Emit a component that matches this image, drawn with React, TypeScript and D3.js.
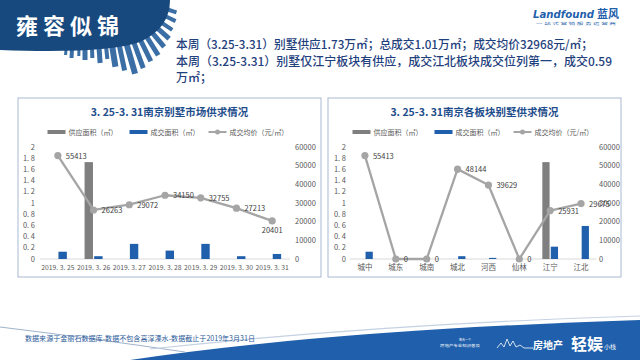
import * as d3 from "d3";

const FONT = '"Noto Sans CJK SC", "Noto Sans", sans-serif';

// left chart: by date
const dateLabels = ["2019. 3. 25", "2019. 3. 26", "2019. 3. 27", "2019. 3. 28", "2019. 3. 29", "2019. 3. 30", "2019. 3. 31"];
const dateSupply = [0, 1.73, 0, 0, 0, 0, 0];
const dateDeal = [0.13, 0.05, 0.27, 0.15, 0.27, 0.05, 0.09];
const datePrice = [55413, 26263, 29072, 34150, 32755, 27213, 20401];
const dateLabelPos = ["right", "right", "right", "right", "right", "right", "below"];

// right chart: by area
const areaLabels = ["城中", "城东", "城南", "城北", "河西", "仙林", "江宁", "江北"];
const areaSupply = [0, 0, 0, 0, 0, 0, 1.73, 0];
const areaDeal = [0.13, 0, 0, 0.05, 0.02, 0, 0.22, 0.59];
const areaPrice = [55413, 0, 0, 48144, 39629, 0, 25931, 29675];
const areaLabelPos = ["right", "right", "right", "right", "right", "right", "right", "right"];

const areaTicks = [0, 0.2, 0.4, 0.6, 0.8, 1, 1.2, 1.4, 1.6, 1.8, 2];
const priceTicks = [0, 10000, 20000, 30000, 40000, 50000, 60000];
const legendNames = ["供应面积（㎡）", "成交面积（㎡）", "成交均价（元/㎡）"];

const GRAY = "#7f7f7f";
const BLUE = "#1f5fab";
const LINE = "#a5a5a5";
const TXT = "#595959";

const fmtArea = (d: number) => (d === 0 ? "0" : d3.format("~g")(d).replace(".", ". "));

type ChartProps = {
  px: number; pw: number; title: string;
  cats: string[]; supply: number[]; deal: number[]; price: number[]; labelPos: string[];
  x0: number; x1: number; leftX: number; rightX: number; catFont: number;
};

function Chart(p: ChartProps) {
  const top = 98, ph = 179;
  const cx = p.px + p.pw / 2;
  const x = d3.scaleBand<string>().domain(p.cats).range([p.x0, p.x1]).padding(0);
  const yL = d3.scaleLinear().domain([0, 2]).range([259, 147]);
  const yR = d3.scaleLinear().domain([0, 60000]).range([259, 147]);
  const bw = x.bandwidth() * 0.235;
  const c = (d: string) => (x(d) as number) + x.bandwidth() / 2;
  const line = d3.line<number>().x((_, i) => c(p.cats[i])).y((d) => yR(d));
  const ly = 132;
  const lx = [cx - 122, cx - 40, cx + 39];
  return (
    <g fontFamily={FONT}>
      <rect x={p.px} y={top} width={p.pw} height={ph} fill="#fff" stroke="#a7b9d0" strokeWidth={1} />
      <text x={cx} y={116} textAnchor="middle" fontSize={10.5} fontWeight="bold" fill="#1f4e8c">{p.title}</text>
      {/* legend */}
      <rect x={lx[0]} y={ly - 2} width={18} height={4} fill={GRAY} />
      <text x={lx[0] + 21} y={ly + 2.5} fontSize={7} fill={TXT}>{legendNames[0]}</text>
      <rect x={lx[1]} y={ly - 2} width={18} height={4} fill={BLUE} />
      <text x={lx[1] + 21} y={ly + 2.5} fontSize={7} fill={TXT}>{legendNames[1]}</text>
      <line x1={lx[2]} x2={lx[2] + 18} y1={ly} y2={ly} stroke={LINE} strokeWidth={2} />
      <circle cx={lx[2] + 9} cy={ly} r={2.5} fill={LINE} />
      <text x={lx[2] + 21} y={ly + 2.5} fontSize={7} fill={TXT}>{legendNames[2]}</text>
      {/* axes */}
      {areaTicks.map((t) => (
        <text key={"l" + t} x={p.leftX} y={yL(t) + 2.5} textAnchor="end" fontSize={7.5} fill={TXT}>{fmtArea(t)}</text>
      ))}
      {priceTicks.map((t) => (
        <text key={"r" + t} x={p.rightX} y={yR(t) + 2.5} fontSize={7.5} fill={TXT}>{t}</text>
      ))}
      <line x1={p.x0} x2={p.x1} y1={yL(0)} y2={yL(0)} stroke="#d9d9d9" strokeWidth={1} />
      {p.cats.map((d) => (
        <text key={"x" + d} x={c(d)} y={270} textAnchor="middle" fontSize={p.catFont} fill={TXT}>{d}</text>
      ))}
      {/* bars */}
      {p.cats.map((d, i) => (
        <g key={"b" + d}>
          {p.supply[i] > 0 && (
            <rect x={c(d) - bw - 0.6} y={yL(p.supply[i])} width={bw} height={yL(0) - yL(p.supply[i])} fill={GRAY} />
          )}
          {p.deal[i] > 0 && (
            <rect x={c(d) + 0.6} y={yL(p.deal[i])} width={bw} height={yL(0) - yL(p.deal[i])} fill={BLUE} />
          )}
        </g>
      ))}
      {/* price line */}
      <path d={line(p.price) as string} fill="none" stroke={LINE} strokeWidth={2.3} strokeLinejoin="round" />
      {p.price.map((v, i) => (
        <circle key={"p" + i} cx={c(p.cats[i])} cy={yR(v)} r={3.6} fill={LINE} />
      ))}
      {p.price.map((v, i) =>
        p.labelPos[i] === "below" ? (
          <text key={"t" + i} x={c(p.cats[i])} y={yR(v) + 12} textAnchor="middle" fontSize={7.5} fill="#404040">{v}</text>
        ) : (
          <text key={"t" + i} x={c(p.cats[i]) + 8} y={yR(v) + 3} fontSize={7.5} fill="#404040">{v}</text>
        )
      )}
    </g>
  );
}

// decorative building silhouette under the header blob: [baseX, baseY, angle, width, length]
const buildings: number[][] = [
  [66, 49, 4, 3, 6], [72, 49, 3, 4, 9], [79, 49, 2, 3, 7], [85, 48, 0, 5, 12], [92, 48, -2, 4, 10],
  [99, 47, -4, 5, 16], [106, 46, -6, 4, 13], [112, 45, -9, 6, 22], [119, 44, -12, 5, 27], [126, 42, -16, 6, 33],
  [133, 40, -20, 5, 30], [139, 37, -26, 5, 27], [145, 34, -32, 5, 25], [150, 30, -40, 5, 22], [155, 26, -48, 5, 19],
  [159, 21, -56, 4, 16], [163, 15, -64, 4, 14], [166, 9, -72, 4, 11],
];

export default function App() {
  return (
    <svg width={640} height={360} style={{ position: "absolute", left: 0, top: 0, background: "#fff" }} fontFamily={FONT}>
      <rect width={640} height={360} fill="#fff" />
      {/* header decoration */}
      <g fill="#3a6ea5">
        {buildings.map((b, i) => (
          <rect key={i} x={-b[3] / 2} y={0} width={b[3]} height={b[4]} transform={`translate(${b[0]},${b[1]}) rotate(${b[2]})`} />
        ))}
      </g>
      <path d="M0,0 L170,0 Q170,28 140,42 Q105,54 0,50 Z" fill="#17497e" />
      <text x={16} y={34} fontSize={22} fontWeight="bold" fill="#fff" letterSpacing={5}>雍容似锦</text>
      {/* logo */}
      <text x={533} y={18} fontSize={11} fontStyle="italic" fontWeight="bold" fill="#1f5fab" fontFamily='"DejaVu Sans", sans-serif' textLength={61} lengthAdjust="spacingAndGlyphs">Landfound</text>
      <text x={597} y={18} fontSize={11} fontWeight="bold" fill="#1f5fab">蓝风</text>
      <text x={536} y={25} fontSize={3.5} fill="#1f5fab" textLength={80} lengthAdjust="spacingAndGlyphs">一 站 式 营 销 服 务 运 营 商</text>
      {/* summary text */}
      <g fill="#1f3f7d" fontSize={12} fontWeight={500}>
        <text x={176} y={49} textLength={417} lengthAdjust="spacingAndGlyphs">本周（3.25-3.31）别墅供应1.73万㎡；总成交1.01万㎡；成交均价32968元/㎡；</text>
        <text x={176} y={66} textLength={436} lengthAdjust="spacingAndGlyphs">本周（3.25-3.31）别墅仅江宁板块有供应，成交江北板块成交位列第一，成交0.59</text>
        <text x={176} y={82}>万㎡；</text>
      </g>
      <Chart
        px={18} pw={303} title="3. 25-3. 31南京别墅市场供求情况"
        cats={dateLabels} supply={dateSupply} deal={dateDeal} price={datePrice} labelPos={dateLabelPos}
        x0={40} x1={290} leftX={35} rightX={295} catFont={6.8}
      />
      <Chart
        px={328} pw={293} title="3. 25-3. 31南京各板块别墅供求情况"
        cats={areaLabels} supply={areaSupply} deal={areaDeal} price={areaPrice} labelPos={areaLabelPos}
        x0={349.5} x1={596.5} leftX={346} rightX={599} catFont={7.5}
      />
      {/* footer */}
      <path d="M130,360 Q330,330 640,320 L640,360 Z" fill="#1f5fab" />
      <path d="M0,327 Q90,338 185,352" fill="none" stroke="#9fb3cc" strokeWidth={1} />
      <path d="M150,349 Q380,324 640,316" fill="none" stroke="#c5d2e2" strokeWidth={1.2} />
      <text x={25} y={341} fontSize={7} fill="#2a5a9a" textLength={230} lengthAdjust="spacingAndGlyphs">数据来源于金丽石数据库-数据不包含高淳溧水-数据截止于2019年3月31日</text>
      <g fill="#fff">
        <text x={459} y={341} fontSize={3} textLength={12} lengthAdjust="spacingAndGlyphs">每天一个</text>
        <text x={440} y={347} fontSize={3} textLength={40} lengthAdjust="spacingAndGlyphs">房地产专业知识普及</text>
        <path d="M497,348 L501,343 L504,347 L507,339 L510,346 L513,341 L516,347 L520,345 L524,348 L533,348" fill="none" stroke="#fff" strokeWidth={0.8} />
        <text x={533} y={349} fontSize={10} fontWeight="bold">房地产</text>
        <text x={571} y={350} fontSize={16} fontWeight="bold">轻娱</text>
        <text x={604} y={349} fontSize={6}>小栈</text>
      </g>
    </svg>
  );
}
